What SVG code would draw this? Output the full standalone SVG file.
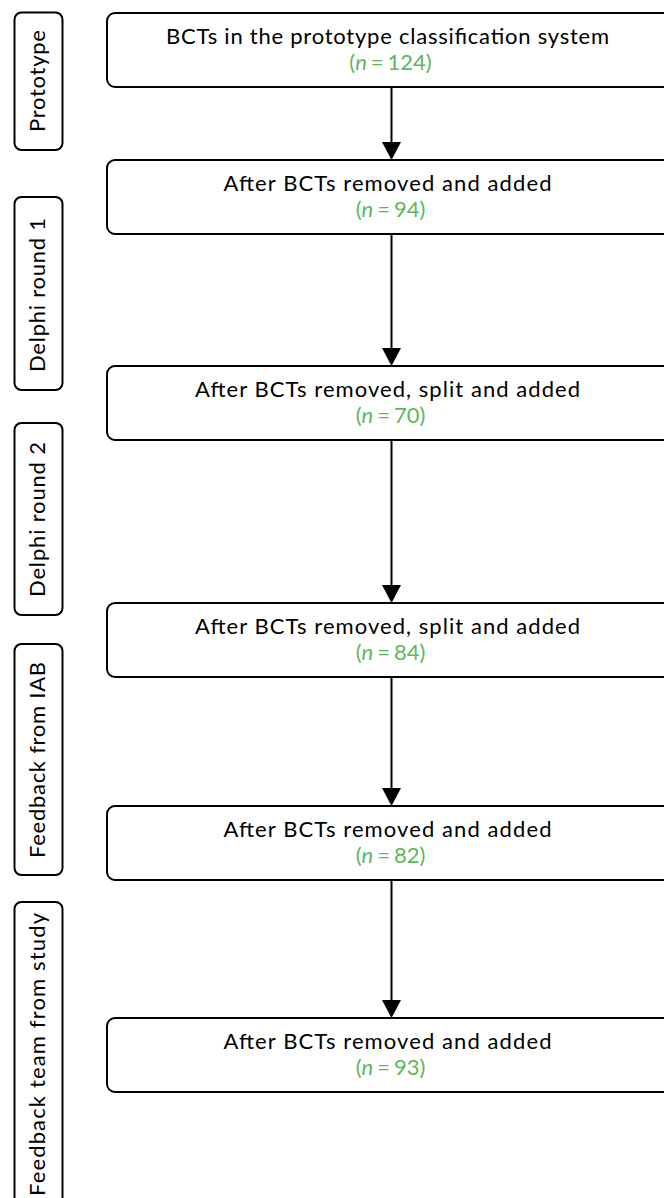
<svg xmlns="http://www.w3.org/2000/svg" width="664" height="1198" viewBox="0 0 664 1198">
<style>
.box{fill:#fff;stroke:#000;stroke-width:2}
.lbl{fill:#fff;stroke:#000;stroke-width:2}
.t{font-family:Lato,"Open Sans",sans-serif;font-size:22px;fill:#000;text-anchor:middle}
.n{font-family:Lato,"Open Sans",sans-serif;font-size:22px;fill:#5cb85a;text-anchor:middle}
.side{font-family:Lato,"Open Sans",sans-serif;font-size:22px;fill:#000;text-anchor:middle}
.conn{stroke:#000;stroke-width:2;fill:none}
.head{fill:#000}
</style>
<g id="side-labels">
  <g id="lbl-prototype"><rect class="lbl" x="14.5" y="12.5" width="48" height="137.5" rx="7"/><text class="side" transform="translate(45,81) rotate(-90)" textLength="102" lengthAdjust="spacing">Prototype</text></g>
  <g id="lbl-delphi1"><rect class="lbl" x="14.5" y="197" width="48" height="193" rx="7"/><text class="side" transform="translate(45,295) rotate(-90)" textLength="154" lengthAdjust="spacing">Delphi round 1</text></g>
  <g id="lbl-delphi2"><rect class="lbl" x="14.5" y="423" width="48" height="192" rx="7"/><text class="side" transform="translate(45,519.5) rotate(-90)" textLength="155" lengthAdjust="spacing">Delphi round 2</text></g>
  <g id="lbl-iab"><rect class="lbl" x="14.5" y="644" width="48" height="231" rx="7"/><text class="side" transform="translate(45,760) rotate(-90)" textLength="196" lengthAdjust="spacing">Feedback from IAB</text></g>
  <g id="lbl-team"><rect class="lbl" x="14.5" y="902" width="48" height="320" rx="7"/><text class="side" transform="translate(45,1054.5) rotate(-90)" textLength="283" lengthAdjust="spacing">Feedback team from study</text></g>
</g>
<g id="connectors">
  <line class="conn" x1="391.5" y1="87" x2="391.5" y2="144"/><path class="head" d="M382,142 L401,142 L391.5,160 Z"/>
  <line class="conn" x1="391.5" y1="234" x2="391.5" y2="350"/><path class="head" d="M382,348 L401,348 L391.5,366 Z"/>
  <line class="conn" x1="391.5" y1="440" x2="391.5" y2="587"/><path class="head" d="M382,585 L401,585 L391.5,603 Z"/>
  <line class="conn" x1="391.5" y1="677" x2="391.5" y2="790"/><path class="head" d="M382,788 L401,788 L391.5,806 Z"/>
  <line class="conn" x1="391.5" y1="880" x2="391.5" y2="1002"/><path class="head" d="M382,1000 L401,1000 L391.5,1018 Z"/>
</g>
<g id="node1"><rect class="box" x="107" y="13" width="600" height="74" rx="8"/><text class="t" x="387.5" y="43.5" textLength="443" lengthAdjust="spacing">BCTs in the prototype classification system</text><text class="n" x="390.5" y="70">(<tspan font-style="italic">n</tspan><tspan dx="4">=</tspan><tspan dx="4">124)</tspan></text></g>
<g id="node2"><rect class="box" x="107" y="160" width="600" height="74" rx="8"/><text class="t" x="387.5" y="190.5" textLength="328" lengthAdjust="spacing">After BCTs removed and added</text><text class="n" x="390.5" y="217">(<tspan font-style="italic">n</tspan><tspan dx="4">=</tspan><tspan dx="4">94)</tspan></text></g>
<g id="node3"><rect class="box" x="107" y="366" width="600" height="74" rx="8"/><text class="t" x="387.5" y="396.5" textLength="385" lengthAdjust="spacing">After BCTs removed, split and added</text><text class="n" x="390.5" y="423">(<tspan font-style="italic">n</tspan><tspan dx="4">=</tspan><tspan dx="4">70)</tspan></text></g>
<g id="node4"><rect class="box" x="107" y="603" width="600" height="74" rx="8"/><text class="t" x="387.5" y="633.5" textLength="385" lengthAdjust="spacing">After BCTs removed, split and added</text><text class="n" x="390.5" y="660">(<tspan font-style="italic">n</tspan><tspan dx="4">=</tspan><tspan dx="4">84)</tspan></text></g>
<g id="node5"><rect class="box" x="107" y="806" width="600" height="74" rx="8"/><text class="t" x="387.5" y="836.5" textLength="328" lengthAdjust="spacing">After BCTs removed and added</text><text class="n" x="390.5" y="863">(<tspan font-style="italic">n</tspan><tspan dx="4">=</tspan><tspan dx="4">82)</tspan></text></g>
<g id="node6"><rect class="box" x="107" y="1018" width="600" height="74" rx="8"/><text class="t" x="387.5" y="1048.5" textLength="328" lengthAdjust="spacing">After BCTs removed and added</text><text class="n" x="390.5" y="1075">(<tspan font-style="italic">n</tspan><tspan dx="4">=</tspan><tspan dx="4">93)</tspan></text></g>
</svg>
